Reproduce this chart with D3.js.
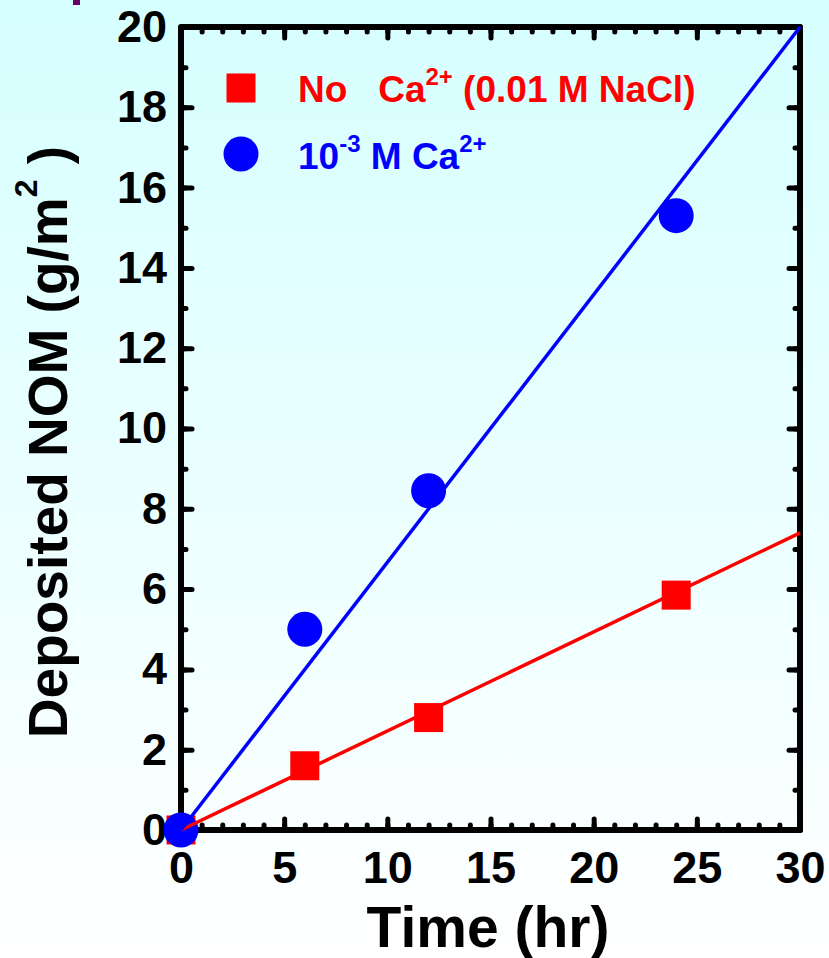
<!DOCTYPE html>
<html>
<head>
<meta charset="utf-8">
<script src="https://cdn.jsdelivr.net/npm/d3@7"></script>
<style>
  body { margin: 0; padding: 0; }
  svg { display: block; font-family: "Liberation Sans", Arial, sans-serif; font-weight: bold; }
</style>
</head>
<body>
<div id="chart"></div>
<script>
// data
const times = [0, 6, 12, 24];
const noCa = [0, 1.6, 2.8, 5.85];          // 0.01 M NaCl, no Ca2+
const withCa = [0, 5.0, 8.45, 15.3];       // 1e-3 M Ca2+
const fitTimes = [0, 30];
const noCaFit = [0, 7.4];
const withCaFit = [0, 20];
const xTicks = [0, 5, 10, 15, 20, 25, 30];
const yTicks = [0, 2, 4, 6, 8, 10, 12, 14, 16, 18, 20];

const W = 829, H = 958;
const margin = { top: 27, right: 29, bottom: 128, left: 181 };
const width = W - margin.left - margin.right;
const height = H - margin.top - margin.bottom;

const root = d3.select("#chart").append("svg")
    .attr("width", W)
    .attr("height", H);

// slide background
const grad = root.append("defs").append("linearGradient")
    .attr("id", "bg").attr("x1", 0).attr("y1", 0).attr("x2", 0).attr("y2", 1);
grad.append("stop").attr("offset", "0%").attr("stop-color", "#d6ffff");
grad.append("stop").attr("offset", "100%").attr("stop-color", "#ffffff");
root.append("rect").attr("width", W).attr("height", H).attr("fill", "url(#bg)");
root.append("rect").attr("x", 73).attr("y", 0).attr("width", 7).attr("height", 5).attr("fill", "#660066");

const svg = root.append("g")
    .attr("transform", `translate(${margin.left},${margin.top})`);

const x = d3.scaleLinear().domain([0, 30]).range([0, width]);
const y = d3.scaleLinear().domain([0, 20]).range([height, 0]);

const minorX = d3.range(0, 31, 1);
const minorY = d3.range(0, 21, 1);

function styleAxis(g) {
    g.select(".domain").remove();
    g.selectAll(".tick line")
        .attr("stroke", "#000")
        .attr("stroke-width", 5)
        .attr("stroke-linecap", "round");
    g.selectAll("text")
        .attr("fill", "#000")
        .style("font-family", "Liberation Sans, Arial, sans-serif")
        .style("font-weight", "bold")
        .style("font-size", "45px");
}

// minor ticks, all four sides
svg.append("g").attr("transform", `translate(0,${height})`)
    .call(d3.axisBottom(x).tickValues(minorX).tickSizeInner(-5).tickSizeOuter(0).tickFormat(""))
    .call(styleAxis);
svg.append("g")
    .call(d3.axisTop(x).tickValues(minorX).tickSizeInner(-5).tickSizeOuter(0).tickFormat(""))
    .call(styleAxis);
svg.append("g")
    .call(d3.axisLeft(y).tickValues(minorY).tickSizeInner(-5).tickSizeOuter(0).tickFormat(""))
    .call(styleAxis);
svg.append("g").attr("transform", `translate(${width},0)`)
    .call(d3.axisRight(y).tickValues(minorY).tickSizeInner(-5).tickSizeOuter(0).tickFormat(""))
    .call(styleAxis);

// major ticks + labels
svg.append("g").attr("transform", `translate(0,${height})`)
    .call(d3.axisBottom(x).tickValues(xTicks).tickSizeInner(-11).tickSizeOuter(0).tickPadding(21).tickFormat(d3.format("d")))
    .call(styleAxis);
svg.append("g")
    .call(d3.axisTop(x).tickValues(xTicks).tickSizeInner(-11).tickSizeOuter(0).tickFormat(""))
    .call(styleAxis);
svg.append("g")
    .call(d3.axisLeft(y).tickValues(yTicks).tickSizeInner(-11).tickSizeOuter(0).tickPadding(14).tickFormat(d3.format("d")))
    .call(styleAxis);
svg.append("g").attr("transform", `translate(${width},0)`)
    .call(d3.axisRight(y).tickValues(yTicks).tickSizeInner(-11).tickSizeOuter(0).tickFormat(""))
    .call(styleAxis);

// frame
svg.append("rect")
    .attr("width", width).attr("height", height)
    .attr("fill", "none").attr("stroke", "#000").attr("stroke-width", 6)
    .attr("stroke-linejoin", "round");

// markers
const sq = 29;
svg.selectAll(".sq").data(times.map((t, i) => [t, noCa[i]]))
    .enter().append("rect")
    .attr("class", "sq")
    .attr("x", d => x(d[0]) - sq / 2)
    .attr("y", d => y(d[1]) - sq / 2)
    .attr("width", sq).attr("height", sq)
    .attr("fill", "#ff0000");

svg.selectAll(".dot").data(times.map((t, i) => [t, withCa[i]]))
    .enter().append("circle")
    .attr("class", "dot")
    .attr("cx", d => x(d[0]))
    .attr("cy", d => y(d[1]))
    .attr("r", 17.5)
    .attr("fill", "#0000ff");

// fitted lines
const line = d3.line().x(d => x(d[0])).y(d => y(d[1]));
svg.append("path")
    .datum(fitTimes.map((t, i) => [t, noCaFit[i]]))
    .attr("d", line).attr("fill", "none").attr("stroke", "#ff0000").attr("stroke-width", 3.5);
svg.append("path")
    .datum(fitTimes.map((t, i) => [t, withCaFit[i]]))
    .attr("d", line).attr("fill", "none").attr("stroke", "#0000ff").attr("stroke-width", 3.5);

// legend
const legend = root.append("g");
legend.append("rect").attr("x", 241 - sq / 2).attr("y", 88 - sq / 2)
    .attr("width", sq).attr("height", sq).attr("fill", "#ff0000");
legend.append("circle").attr("cx", 241).attr("cy", 154).attr("r", 17.5).attr("fill", "#0000ff");

const t1 = legend.append("text").attr("x", 298).attr("y", 102)
    .attr("fill", "#ff0000").style("font-size", "37px").attr("xml:space", "preserve");
t1.append("tspan").text("No   Ca");
t1.append("tspan").attr("dy", -17).style("font-size", "24px").text("2+");
t1.append("tspan").attr("dy", 17).text(" (0.01 M NaCl)");

const t2 = legend.append("text").attr("x", 298).attr("y", 169)
    .attr("fill", "#0000ff").style("font-size", "37px").attr("xml:space", "preserve");
t2.append("tspan").text("10");
t2.append("tspan").attr("dy", -17).style("font-size", "24px").text("-3");
t2.append("tspan").attr("dy", 17).text(" M Ca");
t2.append("tspan").attr("dy", -17).style("font-size", "24px").text("2+");

// axis titles
root.append("text")
    .attr("x", 488).attr("y", 947)
    .attr("text-anchor", "middle")
    .style("font-size", "57px")
    .text("Time (hr)");

const yt = root.append("text")
    .attr("transform", `translate(67,442) rotate(-90)`)
    .attr("text-anchor", "middle")
    .style("font-size", "55px")
    .attr("xml:space", "preserve");
yt.append("tspan").text("Deposited NOM (g/m");
yt.append("tspan").attr("dy", -30).style("font-size", "32px").text("2");
yt.append("tspan").attr("dy", 30).text(" )");
</script>
</body>
</html>
